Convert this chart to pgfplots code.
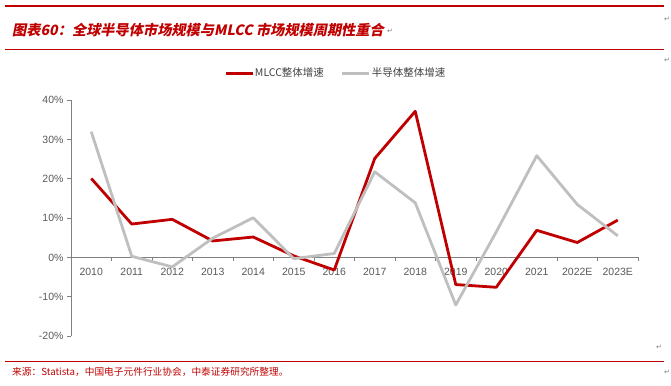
\documentclass[border=0pt]{standalone}
\usepackage{fontspec}
\usepackage{pgfplots}
\pgfplotsset{compat=1.18}
\setmainfont{Liberation Sans}
\newfontfamily\cjk{Noto Sans CJK SC}
\newfontfamily\cjktitle{Noto Sans CJK SC}[FakeSlant=0.2, BoldFeatures={FakeSlant=0.2}]
\newfontfamily\symf{DejaVu Sans}
\definecolor{mred}{HTML}{C00000}
\definecolor{mgray}{HTML}{BFBFBF}
\definecolor{axgray}{HTML}{808080}
\definecolor{tickgray}{HTML}{595959}
\definecolor{leggray}{HTML}{404040}
\begin{document}
\begin{tikzpicture}
\useasboundingbox (0pt,0pt) rectangle (671pt,-385pt);
\begin{axis}[
  at={(71pt,-336pt)}, anchor=south west,
  scale only axis, width=567pt, height=235.7pt,
  xmin=-0.5, xmax=13.5, ymin=-20, ymax=40,
  axis y line=left, axis x line=middle,
  axis line style={-, draw=axgray, line width=0.8pt},
  ytick={-20,-10,0,10,20,30,40},
  yticklabel={\pgfmathprintnumber{\tick}\%},
  /pgf/number format/assume math mode=true,
  xtick={0,1,2,3,4,5,6,7,8,9,10,11,12,13},
  xticklabels={2010,2011,2012,2013,2014,2015,2016,2017,2018,2019,2020,2021,2022E,2023E},
  minor xtick={-0.5,0.5,1.5,2.5,3.5,4.5,5.5,6.5,7.5,8.5,9.5,10.5,11.5,12.5,13.5},
  tick align=outside,
  x tick style={draw=none},
  minor x tick style={draw=axgray, line width=0.8pt},
  minor tick length=4pt,
  y tick style={draw=axgray, line width=0.8pt},
  major tick length=4pt,
  ticklabel style={font=\fontsize{10.5}{12}\selectfont, text=tickgray},
  xticklabel style={yshift=-3pt},
  hide obscured y ticks=false,
  hide obscured x ticks=false,
  clip=false,
  legend style={at={(0.466,1.115)}, anchor=center, draw=none, fill=none,
    legend columns=2, font=\cjk\fontsize{10.5}{12}\selectfont, text=leggray,
    /tikz/every even column/.append style={column sep=16pt},
    nodes={inner sep=1pt}},
  legend image code/.code={\draw[#1] (0pt,0pt) -- (27pt,0pt);},
]
\addplot[mred, line width=2.8pt, line join=round] coordinates {
 (0,20.1) (1,8.5) (2,9.7) (3,4.2) (4,5.2) (5,0.4) (6,-3.2) (7,25.2) (8,37.2) (9,-6.9) (10,-7.6) (11,6.9) (12,3.8) (13,9.5)};
\addlegendentry{MLCC整体增速}
\addplot[mgray, line width=2.8pt, line join=round] coordinates {
 (0,32.0) (1,0.3) (2,-2.4) (3,4.9) (4,10.1) (5,-0.3) (6,1.0) (7,21.8) (8,13.9) (9,-12.1) (10,6.5) (11,25.9) (12,13.5) (13,5.5)};
\addlegendentry{半导体整体增速}
\end{axis}
\draw[mred, line width=1.6pt] (5pt,-6pt) -- (664pt,-6pt);
\node[anchor=west, text=mred, inner sep=0pt] at (12pt,-30pt) {\cjktitle\bfseries\fontsize{14.2}{16}\selectfont 图表60：全球半导体市场规模与MLCC 市场规模周期性重合};
\draw[mred, line width=1.2pt] (5pt,-49.5pt) -- (664pt,-49.5pt);
\draw[mred, line width=1.2pt] (5pt,-361.5pt) -- (664pt,-361.5pt);
\node[anchor=west, text=mred, inner sep=0pt] at (12pt,-372pt) {\cjk\fontsize{9.7}{11}\selectfont 来源：Statista，中国电子元件行业协会，中泰证券研究所整理。};
\node[text=axgray, inner sep=0pt] at (390pt,-31pt) {\symf\fontsize{7}{8}\selectfont ↵};
\node[text=axgray, inner sep=0pt] at (667pt,-19pt) {\symf\fontsize{7}{8}\selectfont ↵};
\node[text=axgray, inner sep=0pt] at (667pt,-60pt) {\symf\fontsize{7}{8}\selectfont ↵};
\node[text=axgray, inner sep=0pt] at (659pt,-347pt) {\symf\fontsize{7}{8}\selectfont ↵};
\node[text=axgray, inner sep=0pt] at (667pt,-372pt) {\symf\fontsize{7}{8}\selectfont ↵};
\end{tikzpicture}
\end{document}
